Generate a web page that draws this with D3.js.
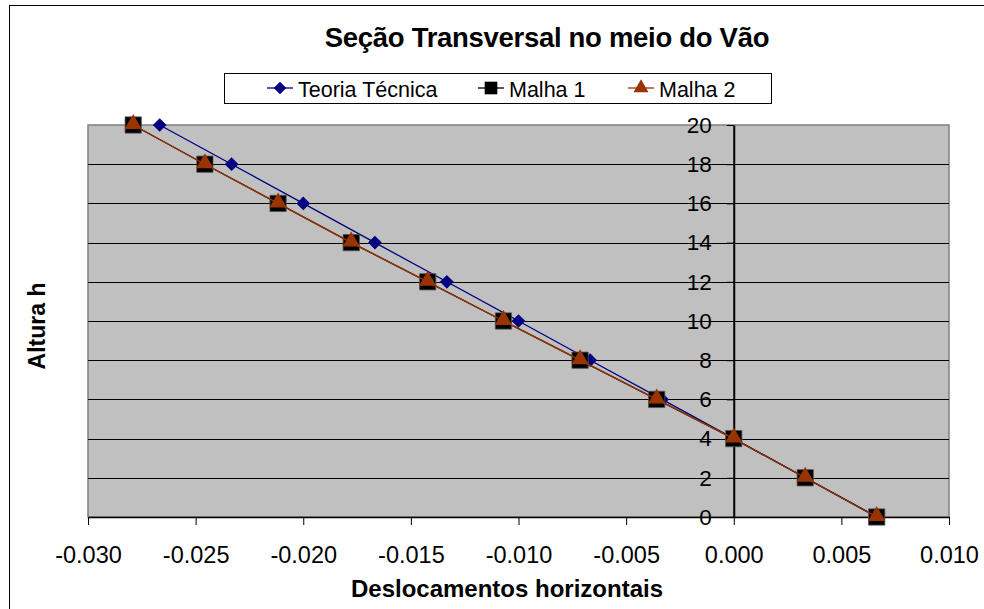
<!DOCTYPE html>
<html>
<head>
<meta charset="utf-8">
<script src="https://d3js.org/d3.v7.min.js"></script>
<style>
  body { margin: 0; background: #fff; }
  text { font-family: "Liberation Sans", Arial, sans-serif; }
</style>
</head>
<body>
<svg id="chart" width="984" height="609"></svg>
<script>
// data
var heights = [20, 18, 16, 14, 12, 10, 8, 6, 4, 2, 0];
var teoria = [-0.02667, -0.02333, -0.02000, -0.01667, -0.01333, -0.01000, -0.00667, -0.00333, 0.00000, 0.00333, 0.00667];
var malha1 = [-0.02790, -0.02457, -0.02117, -0.01777, -0.01422, -0.01070, -0.00714, -0.00358, 0.00000, 0.00332, 0.00664];
var malha2 = [-0.02790, -0.02457, -0.02117, -0.01777, -0.01422, -0.01070, -0.00714, -0.00358, 0.00000, 0.00332, 0.00664];
var xTicks = [-0.030, -0.025, -0.020, -0.015, -0.010, -0.005, 0.000, 0.005, 0.010];
var yTicks = [0, 2, 4, 6, 8, 10, 12, 14, 16, 18, 20];

var svg = d3.select("#chart");

// outer chart frame (right and bottom edges fall outside the picture)
svg.append("rect")
  .attr("x", 9.5).attr("y", 5.5)
  .attr("width", 1000).attr("height", 620)
  .attr("fill", "#fff").attr("stroke", "#000").attr("stroke-width", 1);

var pLeft = 88, pRight = 949, pTop = 125, pBottom = 517;

var x = d3.scaleLinear().domain([-0.03, 0.01]).range([pLeft, pRight]);
var y = d3.scaleLinear().domain([0, 20]).range([pBottom, pTop]);

// plot area
svg.append("rect")
  .attr("x", pLeft).attr("y", pTop)
  .attr("width", pRight - pLeft).attr("height", pBottom - pTop)
  .attr("fill", "#c0c0c0").attr("stroke", "#808080").attr("stroke-width", 1.5);

// horizontal grid lines
svg.selectAll(".grid")
  .data(yTicks.filter(function(d) { return d > 0 && d < 20; }))
  .enter().append("line")
    .attr("x1", pLeft).attr("x2", pRight)
    .attr("y1", function(d) { return Math.round(y(d)) + 0.5; })
    .attr("y2", function(d) { return Math.round(y(d)) + 0.5; })
    .attr("stroke", "#000").attr("stroke-width", 1);

// x axis at the bottom
var xAxis = d3.axisBottom(x)
  .tickValues(xTicks)
  .tickSizeInner(8).tickSizeOuter(0)
  .tickPadding(21)
  .tickFormat(function(d) { return d3.format(".3f")(d).replace("\u2212", "-"); });

var gx = svg.append("g")
  .attr("transform", "translate(0," + pBottom + ")")
  .call(xAxis);
gx.select(".domain").attr("stroke", "#000").attr("stroke-width", 1.5);
gx.selectAll(".tick line").attr("stroke", "#000");
gx.selectAll("text")
  .attr("font-size", 23.5).attr("fill", "#000")
  .attr("font-family", "Liberation Sans, Arial, sans-serif");

// y axis crossing at x = 0
var yAxis = d3.axisLeft(y)
  .tickValues(yTicks)
  .tickSizeInner(7).tickSizeOuter(0)
  .tickPadding(15);

var gy = svg.append("g")
  .attr("transform", "translate(" + x(0) + ",0)")
  .call(yAxis);
gy.select(".domain").attr("stroke", "#000").attr("stroke-width", 2);
gy.selectAll(".tick line").attr("stroke", "#000");
gy.selectAll("text")
  .attr("font-size", 22.5).attr("fill", "#000")
  .attr("font-family", "Liberation Sans, Arial, sans-serif");

// series
var series = [
  { name: "Teoria Técnica", values: teoria, color: "#000080", marker: "diamond" },
  { name: "Malha 1", values: malha1, color: "#000000", marker: "square" },
  { name: "Malha 2", values: malha2, color: "#993300", marker: "triangle" }
];

var symbolType = { diamond: d3.symbolDiamond2, square: d3.symbolSquare, triangle: d3.symbolTriangle2 };
var symbolSize = { diamond: 120, square: 265, triangle: 215 };

var line = d3.line()
  .x(function(d) { return x(d[0]); })
  .y(function(d) { return y(d[1]); });

series.forEach(function(s) {
  var pts = s.values.map(function(v, i) { return [v, heights[i]]; });
  svg.append("path")
    .datum(pts)
    .attr("d", line)
    .attr("fill", "none")
    .attr("stroke", s.color)
    .attr("stroke-width", 1.3);
  svg.selectAll(null)
    .data(pts)
    .enter().append("path")
      .attr("d", d3.symbol().type(symbolType[s.marker]).size(symbolSize[s.marker]))
      .attr("transform", function(d) {
        var dy = s.marker === "triangle" ? -1 : 0;
        return "translate(" + x(d[0]) + "," + (y(d[1]) + dy) + ")";
      })
      .attr("fill", s.color)
      .attr("stroke", s.marker === "square" ? "#555" : "none")
      .attr("stroke-width", 0.8);
});

// title
svg.append("text")
  .attr("x", 547).attr("y", 47)
  .attr("text-anchor", "middle")
  .attr("font-size", 27.5).attr("font-weight", "bold")
  .attr("letter-spacing", -0.3)
  .text("Seção Transversal no meio do Vão");

// legend
var legend = svg.append("g");
legend.append("rect")
  .attr("x", 224.5).attr("y", 73.5)
  .attr("width", 547).attr("height", 30)
  .attr("fill", "#fff").attr("stroke", "#000");

var legendX = [280, 491, 641];
series.forEach(function(s, i) {
  var g = legend.append("g").attr("transform", "translate(" + legendX[i] + ",88)");
  g.append("line")
    .attr("x1", -13).attr("x2", 13)
    .attr("stroke", s.color).attr("stroke-width", 1.3);
  g.append("path")
    .attr("d", d3.symbol().type(symbolType[s.marker]).size(s.marker === "diamond" ? 100 : 160))
    .attr("fill", s.color);
  g.append("text")
    .attr("x", 18).attr("y", 9)
    .attr("font-size", 21.5)
    .text(s.name);
});

// axis titles
svg.append("text")
  .attr("x", 507).attr("y", 597)
  .attr("text-anchor", "middle")
  .attr("font-size", 24).attr("font-weight", "bold")
  .text("Deslocamentos horizontais");

svg.append("text")
  .attr("transform", "translate(45,326) rotate(-90)")
  .attr("text-anchor", "middle")
  .attr("font-size", 23).attr("font-weight", "bold")
  .text("Altura h");
</script>
</body>
</html>
